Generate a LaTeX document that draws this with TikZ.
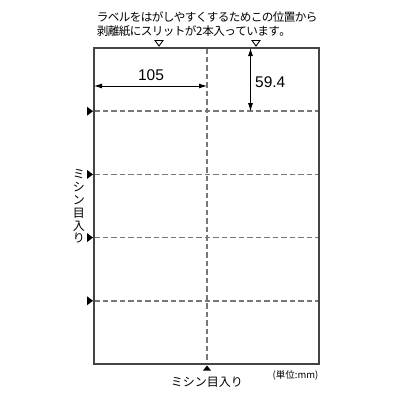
\documentclass[tikz,border=0pt]{standalone}
\usepackage{fontspec}
\setmainfont{Liberation Sans}
\newfontfamily\jp{Noto Sans CJK JP}
\usetikzlibrary{arrows.meta}
\definecolor{frame}{HTML}{444444}
\definecolor{cut}{HTML}{777777}
\makeatletter
\def\fwtext#1{\@tfor\fw@c:=#1\do{\makebox[11pt][c]{\fw@c}}}
\makeatother
\tikzset{
  framebox/.style={draw=frame,line width=1.5pt},
  perf/.style={draw=cut,line width=1.5pt,dash pattern=on 5.5pt off 3pt},
  dim/.style={draw=black,line width=0.9pt,{Latex[length=8pt,width=5pt]}-{Latex[length=8pt,width=5pt]}},
  jptext/.style={font=\jp\fontsize{11.6}{14}\selectfont,inner sep=0pt},
  jpmark/.style={font=\jp\fontsize{12}{13.5}\selectfont,inner sep=0pt},
  num/.style={font=\fontsize{15.5}{17}\selectfont,inner sep=0pt},
  tri/.style={fill=black},
  otri/.style={draw=black,line width=0.9pt,fill=white}
}
\begin{document}
\begin{tikzpicture}[x=1pt,y=-1pt]
\useasboundingbox (0,0) rectangle (400,400);
% sheet
\coordinate (tl) at (94,48);
\coordinate (br) at (319,364);
\coordinate (tm) at (207,48);
\coordinate (bm) at (207,364);
% perforation lines
\draw[perf] (tm) -- (bm);
\foreach \i/\yy in {1/111.2,2/174.4,3/237.6,4/300.8}{
  \coordinate (l\i) at (94,\yy);
  \coordinate (r\i) at (319,\yy);
  \draw[perf] (l\i) -- (r\i);
  \fill[tri] (87,\yy-4.5) -- (93,\yy) -- (87,\yy+4.5) -- cycle;
}
\draw[framebox] (tl) rectangle (br);
% top open triangles (slits)
\foreach \xx in {159,256}{
  \draw[otri] (\xx-4,40.5) -- (\xx+4,40.5) -- (\xx,46) -- cycle;
}
% bottom triangle
\fill[tri] (203,370.5) -- (211,370.5) -- (207,365.5) -- cycle;
% dimensions
\coordinate (h1) at (94,86);
\coordinate (h2) at (207,86);
\draw[dim] (h1) -- (h2);
\node[num] (n105) at (151,75) {105};
\coordinate (v1) at (250.5,48);
\coordinate (v2) at (250.5,111.2);
\draw[dim] (v1) -- (v2);
\node[num,anchor=west] (n594) at (255,82) {59.4};
% texts
\node[jptext,anchor=west] (t1) at (97,17.5) {\fwtext{ラベルをはがしやすくするためこの位置から}};
\node[jptext,anchor=west] (t2) at (97,31.5) {\fwtext{剥離紙にスリットが}2\fwtext{本入っています。}};
\node[jpmark] (bot) at (207,382.5) {ミシン目入り};
\node[jpmark,align=center,font=\jp\fontsize{12}{12.9}\selectfont] (left) at (79,206.5) {ミ\\シ\\ン\\目\\入\\り};
\node[font=\jp\fontsize{9.5}{10}\selectfont,inner sep=0pt] (unit) at (295.5,375) {(単位:mm)};
\end{tikzpicture}
\end{document}
